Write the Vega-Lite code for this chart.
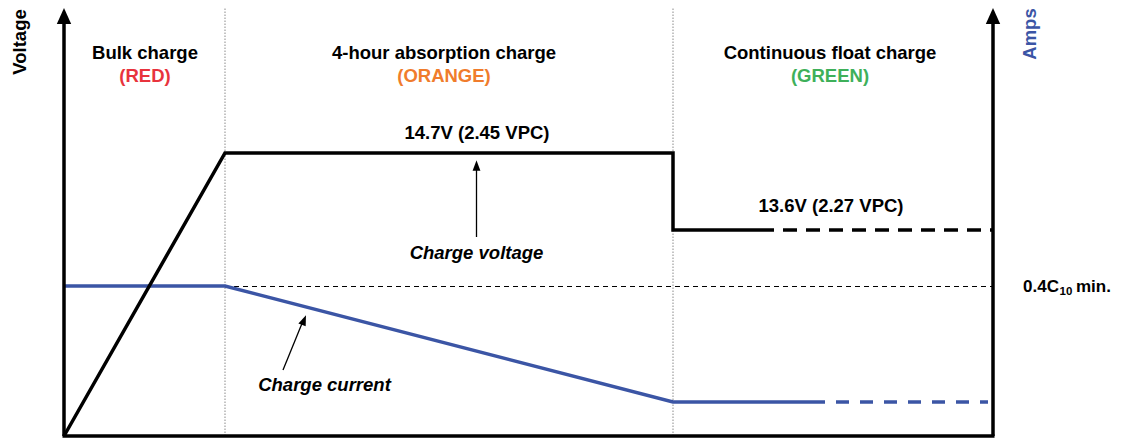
{
"$schema": "https://vega.github.io/schema/vega-lite/v6.json",
"width": 1122, "height": 440,
"autosize": "none",
"padding": 0,
"background": "white",
"config": {"view": {"stroke": null}, "font": "Liberation Sans"},
"datasets": {
 "axes": [{"x":64,"y":4,"x2":64,"y2":426},{"x":62.5,"y":4,"x2":994.5,"y2":4},{"x":993,"y":4,"x2":993,"y2":426}],
 "bigheads": [{"x":64,"y":424,"a":0},{"x":993,"y":424,"a":0}],
 "smallheads": [{"x":476.5,"y":274.5,"a":0},{"x":304,"y":120,"a":22}],
 "shafts": [{"x":476.5,"y":203,"x2":476.5,"y2":272},{"x":283,"y":70,"x2":303,"y2":119}],
 "dotted": [{"x":225,"y":4,"x2":225,"y2":432},{"x":673,"y":4,"x2":673,"y2":432}],
 "refline": [{"x":225,"y":153.5,"x2":992,"y2":153.5}],
 "voltage": [{"o":1,"x":64,"y":4},{"o":2,"x":225,"y":287},{"o":3,"x":673,"y":287},{"o":4,"x":673,"y":210},{"o":5,"x":760,"y":210}],
 "voltdash": [{"x":760,"y":210,"x2":993,"y2":210}],
 "current": [{"o":1,"x":64,"y":154},{"o":2,"x":225,"y":154},{"o":3,"x":673,"y":38},{"o":4,"x":812,"y":38}],
 "currdash": [{"x":812,"y":38,"x2":988,"y2":38}],
 "headers": [
  {"x":145,"y":381,"t":"Bulk charge","c":"black"},
  {"x":444,"y":381,"t":"4-hour absorption charge","c":"black"},
  {"x":830,"y":381,"t":"Continuous float charge","c":"black"},
  {"x":145,"y":358,"t":"(RED)","c":"red"},
  {"x":444,"y":358,"t":"(ORANGE)","c":"orange"},
  {"x":830,"y":358,"t":"(GREEN)","c":"green"},
  {"x":477,"y":301,"t":"14.7V (2.45 VPC)","c":"black"},
  {"x":831,"y":228,"t":"13.6V (2.27 VPC)","c":"black"}
 ],
 "italics": [{"x":476.5,"y":181,"t":"Charge voltage"},{"x":324.5,"y":49,"t":"Charge current"}],
 "voltagetitle": [{"x":26,"y":398,"t":"Voltage"}],
 "ampstitle": [{"x":1036,"y":406,"t":"Amps"}],
 "reflabel": [{"x":1023,"y":148,"t":"0.4C"},{"x":1076,"y":148,"t":"min."}],
 "refsub": [{"x":1059.5,"y":145.5,"t":"10"}]
},
"layer": [
 {"data":{"name":"dotted"},"mark":{"type":"rule","color":"#8a8a8a","strokeWidth":1,"strokeDash":[1.5,1.5]},
  "encoding":{"x":{"field":"x","type":"quantitative","scale":{"domain":[0,1122],"nice":false},"axis":null},
   "y":{"field":"y","type":"quantitative","scale":{"domain":[0,440],"nice":false},"axis":null},
   "x2":{"field":"x2"},"y2":{"field":"y2"}}},
 {"data":{"name":"refline"},"mark":{"type":"rule","color":"black","strokeWidth":1,"strokeDash":[5,4]},
  "encoding":{"x":{"field":"x","type":"quantitative","scale":{"domain":[0,1122],"nice":false},"axis":null},
   "y":{"field":"y","type":"quantitative","scale":{"domain":[0,440],"nice":false},"axis":null},
   "x2":{"field":"x2"},"y2":{"field":"y2"}}},
 {"data":{"name":"current"},"mark":{"type":"line","color":"#3b55a5","strokeWidth":3.5},
  "encoding":{"x":{"field":"x","type":"quantitative","scale":{"domain":[0,1122],"nice":false},"axis":null},
   "y":{"field":"y","type":"quantitative","scale":{"domain":[0,440],"nice":false},"axis":null},
   "order":{"field":"o","type":"quantitative"}}},
 {"data":{"name":"currdash"},"mark":{"type":"rule","color":"#3b55a5","strokeWidth":3.5,"strokeDash":[13,11]},
  "encoding":{"x":{"field":"x","type":"quantitative","scale":{"domain":[0,1122],"nice":false},"axis":null},
   "y":{"field":"y","type":"quantitative","scale":{"domain":[0,440],"nice":false},"axis":null},
   "x2":{"field":"x2"},"y2":{"field":"y2"}}},
 {"data":{"name":"voltage"},"mark":{"type":"line","color":"black","strokeWidth":3.5},
  "encoding":{"x":{"field":"x","type":"quantitative","scale":{"domain":[0,1122],"nice":false},"axis":null},
   "y":{"field":"y","type":"quantitative","scale":{"domain":[0,440],"nice":false},"axis":null},
   "order":{"field":"o","type":"quantitative"}}},
 {"data":{"name":"voltdash"},"mark":{"type":"rule","color":"black","strokeWidth":3.5,"strokeDash":[14,9]},
  "encoding":{"x":{"field":"x","type":"quantitative","scale":{"domain":[0,1122],"nice":false},"axis":null},
   "y":{"field":"y","type":"quantitative","scale":{"domain":[0,440],"nice":false},"axis":null},
   "x2":{"field":"x2"},"y2":{"field":"y2"}}},
 {"data":{"name":"axes"},"mark":{"type":"rule","color":"black","strokeWidth":3.5},
  "encoding":{"x":{"field":"x","type":"quantitative","scale":{"domain":[0,1122],"nice":false},"axis":null},
   "y":{"field":"y","type":"quantitative","scale":{"domain":[0,440],"nice":false},"axis":null},
   "x2":{"field":"x2"},"y2":{"field":"y2"}}},
 {"data":{"name":"shafts"},"mark":{"type":"rule","color":"black","strokeWidth":1.3},
  "encoding":{"x":{"field":"x","type":"quantitative","scale":{"domain":[0,1122],"nice":false},"axis":null},
   "y":{"field":"y","type":"quantitative","scale":{"domain":[0,440],"nice":false},"axis":null},
   "x2":{"field":"x2"},"y2":{"field":"y2"}}},
 {"data":{"name":"bigheads"},"mark":{"type":"point","shape":"M0,-1L0.9,1L-0.9,1Z","filled":true,"color":"black","opacity":1,"size":256},
  "encoding":{"x":{"field":"x","type":"quantitative","scale":{"domain":[0,1122],"nice":false},"axis":null},
   "y":{"field":"y","type":"quantitative","scale":{"domain":[0,440],"nice":false},"axis":null},
   "angle":{"field":"a","type":"quantitative","scale":null}}},
 {"data":{"name":"smallheads"},"mark":{"type":"point","shape":"M0,-1L0.75,1L-0.75,1Z","filled":true,"color":"black","opacity":1,"size":110},
  "encoding":{"x":{"field":"x","type":"quantitative","scale":{"domain":[0,1122],"nice":false},"axis":null},
   "y":{"field":"y","type":"quantitative","scale":{"domain":[0,440],"nice":false},"axis":null},
   "angle":{"field":"a","type":"quantitative","scale":null}}},
 {"data":{"name":"headers"},"mark":{"type":"text","fontSize":18.5,"fontWeight":"bold","align":"center","baseline":"alphabetic"},
  "encoding":{"x":{"field":"x","type":"quantitative","scale":{"domain":[0,1122],"nice":false},"axis":null},
   "y":{"field":"y","type":"quantitative","scale":{"domain":[0,440],"nice":false},"axis":null},
   "text":{"field":"t"},
   "color":{"field":"c","type":"nominal","scale":{"domain":["black","red","orange","green"],"range":["#000000","#e8333d","#f07c2c","#3eb05a"]},"legend":null}}},
 {"data":{"name":"italics"},"mark":{"type":"text","fontSize":18.5,"fontWeight":"bold","fontStyle":"italic","align":"center","baseline":"alphabetic","color":"black"},
  "encoding":{"x":{"field":"x","type":"quantitative","scale":{"domain":[0,1122],"nice":false},"axis":null},
   "y":{"field":"y","type":"quantitative","scale":{"domain":[0,440],"nice":false},"axis":null},
   "text":{"field":"t"}}},
 {"data":{"name":"voltagetitle"},"mark":{"type":"text","fontSize":18.5,"fontWeight":"bold","align":"center","baseline":"alphabetic","angle":270,"color":"black"},
  "encoding":{"x":{"field":"x","type":"quantitative","scale":{"domain":[0,1122],"nice":false},"axis":null},
   "y":{"field":"y","type":"quantitative","scale":{"domain":[0,440],"nice":false},"axis":null},
   "text":{"field":"t"}}},
 {"data":{"name":"ampstitle"},"mark":{"type":"text","fontSize":18.5,"fontWeight":"bold","align":"center","baseline":"alphabetic","angle":270,"color":"#3b55a5"},
  "encoding":{"x":{"field":"x","type":"quantitative","scale":{"domain":[0,1122],"nice":false},"axis":null},
   "y":{"field":"y","type":"quantitative","scale":{"domain":[0,440],"nice":false},"axis":null},
   "text":{"field":"t"}}},
 {"data":{"name":"reflabel"},"mark":{"type":"text","fontSize":17,"fontWeight":"bold","align":"left","baseline":"alphabetic","color":"black"},
  "encoding":{"x":{"field":"x","type":"quantitative","scale":{"domain":[0,1122],"nice":false},"axis":null},
   "y":{"field":"y","type":"quantitative","scale":{"domain":[0,440],"nice":false},"axis":null},
   "text":{"field":"t"}}},
 {"data":{"name":"refsub"},"mark":{"type":"text","fontSize":11.5,"fontWeight":"bold","align":"left","baseline":"alphabetic","color":"black"},
  "encoding":{"x":{"field":"x","type":"quantitative","scale":{"domain":[0,1122],"nice":false},"axis":null},
   "y":{"field":"y","type":"quantitative","scale":{"domain":[0,440],"nice":false},"axis":null},
   "text":{"field":"t"}}}
]
}
